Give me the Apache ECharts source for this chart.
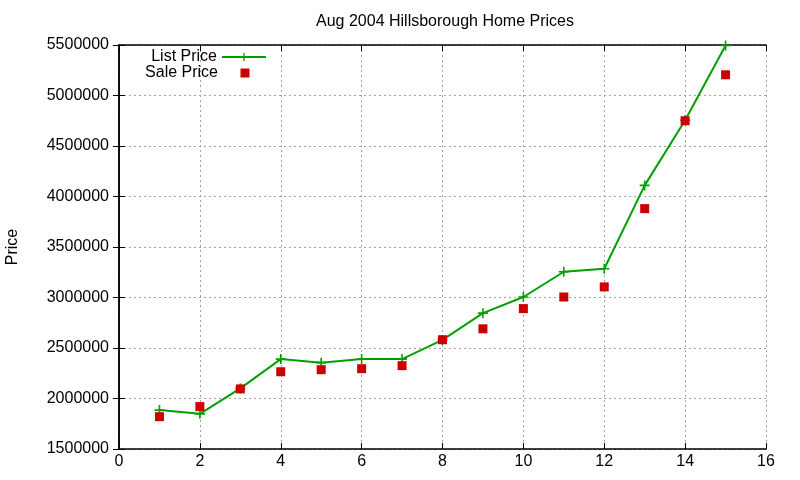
<!DOCTYPE html>
<html>
<head>
<meta charset="utf-8">
<script src="https://cdn.jsdelivr.net/npm/echarts@6/dist/echarts.min.js"></script>
<style>
  html, body { margin: 0; padding: 0; background: #fff; }
  #chart { width: 800px; height: 480px; }
</style>
</head>
<body>
<div id="chart"></div>
<script>
// House index (1..15) and prices
const houses = [1, 2, 3, 4, 5, 6, 7, 8, 9, 10, 11, 12, 13, 14, 15];
const listPrice = [1885000, 1848000, 2100000, 2390000, 2355000, 2390000, 2390000, 2580000,
                   2845000, 3005000, 3255000, 3285000, 4110000, 4755000, 5495000];
const salePrice = [1820000, 1920000, 2095000, 2265000, 2285000, 2295000, 2325000, 2582000,
                   2690000, 2890000, 3005000, 3105000, 3880000, 4750000, 5205000];

const FONT = 'Liberation Sans, Arial, sans-serif';
const plusIcon = 'path://M4.2,0H5.8V4.2H10V5.8H5.8V10H4.2V5.8H0V4.2H4.2Z';
// square centred in a wide legend slot (tiny corner specks only set the bounds)
const squareKey = 'path://M0,5L0.01,5L0.01,5.01Z M17.5,0.5H26.5V9.5H17.5Z M44,5L43.99,5L43.99,5.01Z';

function initChart() {
    const el = document.getElementById('chart');
    const chart = echarts.init(el, null, { renderer: 'canvas' });

    const gridLine = { show: true, lineStyle: { color: '#a0a0a0', type: [2, 3], width: 1 } };
    const axisLine = { show: true, lineStyle: { color: '#000', width: 1.5 } };
    const tickIn = { show: true, inside: true, length: 6, lineStyle: { color: '#000' } };
    const labelText = { fontFamily: FONT, fontSize: 16, color: '#000' };

    const option = {
        backgroundColor: '#fff',
        animation: false,
        title: {
            text: 'Aug 2004 Hillsborough Home Prices',
            left: 440,
            textAlign: 'center',
            top: 9,
            textStyle: { fontFamily: FONT, fontSize: 16, fontWeight: 'normal', color: '#000' }
        },
        legend: [
            {
                right: 528, top: 44, align: 'right',
                itemWidth: 44, itemHeight: 10, itemGap: 8,
                textStyle: labelText,
                data: [{ name: 'List Price' }]
            },
            {
                right: 528, top: 60, align: 'right',
                itemWidth: 44, itemHeight: 10, itemGap: 8,
                textStyle: labelText,
                data: [{ name: 'Sale Price', icon: squareKey, itemStyle: { color: '#cc0000' } }]
            }
        ],
        grid: {
            left: 119, top: 45, width: 647, height: 404,
            containLabel: false, outerBoundsMode: 'none'
        },
        xAxis: [
            {
                type: 'value', min: 0, max: 16, interval: 2,
                axisLine: axisLine, axisTick: tickIn, splitLine: gridLine,
                axisLabel: Object.assign({ margin: 5 }, labelText)
            },
            {
                type: 'value', position: 'top', min: 0, max: 16, interval: 2,
                axisLine: axisLine, axisTick: tickIn, splitLine: { show: false },
                axisLabel: { show: false }
            }
        ],
        yAxis: [
            {
                type: 'value', min: 1500000, max: 5500000, interval: 500000,
                name: 'Price', nameLocation: 'middle', nameGap: 98, nameRotate: 90,
                nameTextStyle: labelText,
                axisLine: axisLine, axisTick: tickIn, splitLine: gridLine,
                axisLabel: Object.assign({ margin: 10, formatter: v => String(v) }, labelText)
            },
            {
                type: 'value', position: 'right', min: 1500000, max: 5500000, interval: 500000,
                axisLine: axisLine, axisTick: tickIn, splitLine: { show: false },
                axisLabel: { show: false }
            }
        ],
        series: [
            {
                name: 'List Price',
                type: 'line',
                data: houses.map((h, i) => [h, listPrice[i]]),
                symbol: plusIcon,
                symbolSize: 10,
                showAllSymbol: true,
                lineStyle: { color: '#00a000', width: 2 },
                itemStyle: { color: '#00a000' },
                z: 2
            },
            {
                name: 'Sale Price',
                type: 'scatter',
                data: houses.map((h, i) => [h, salePrice[i]]),
                symbol: 'rect',
                symbolSize: 9,
                itemStyle: { color: '#cc0000', opacity: 1 },
                z: 3
            }
        ]
    };

    chart.setOption(option);
}

document.addEventListener('DOMContentLoaded', initChart);
</script>
</body>
</html>
